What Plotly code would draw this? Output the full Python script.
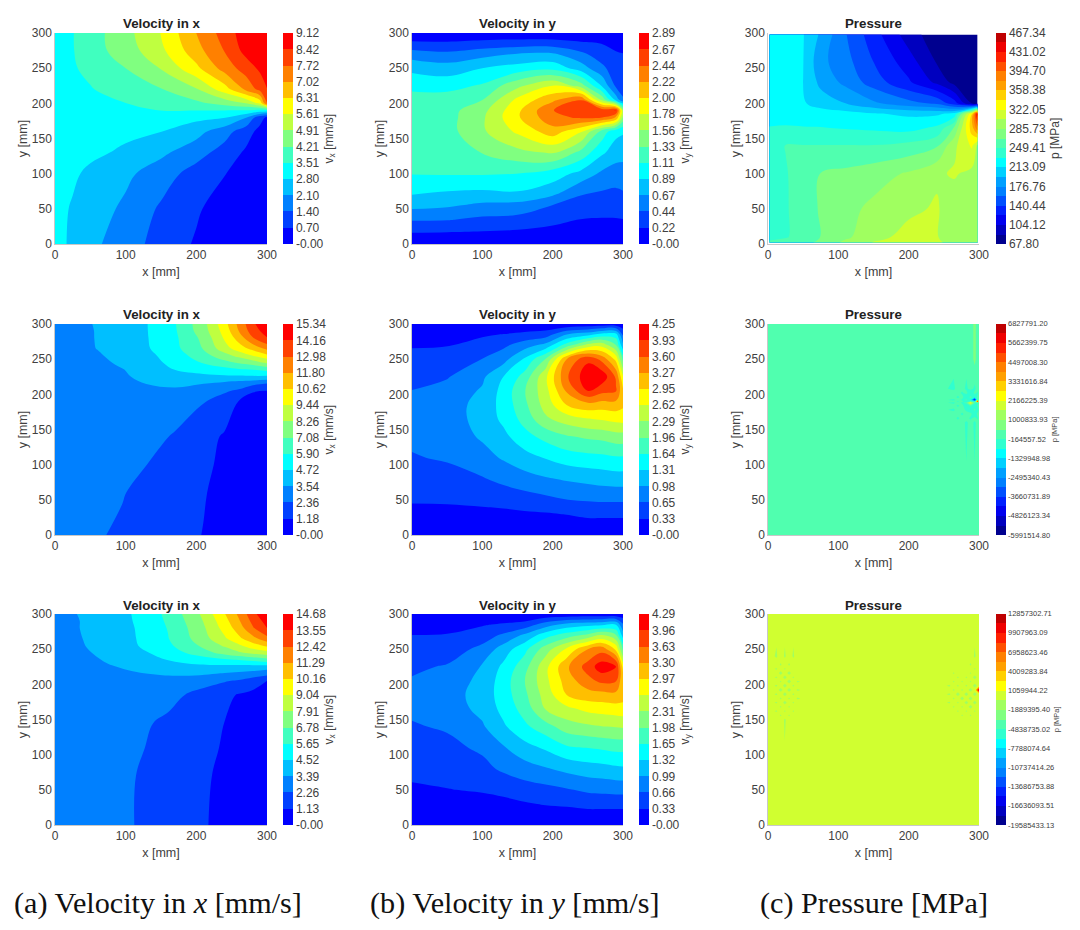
import plotly.graph_objects as go

# colours of the filled bands, bottom to top
velocity_colors = ["#0000ff", "#0040ff", "#0080ff", "#00bfff", "#00ffff", "#40ffbf", "#80ff80",
                   "#bfff40", "#ffff00", "#ffbf00", "#ff8000", "#ff4000", "#ff0000"]
pressure_colors = ["#00008f", "#0000bf", "#0000ef", "#0020ff", "#0050ff", "#0080ff", "#00a0ff", "#00d0ff",
                   "#00ffff", "#30ffcf", "#50ffaf", "#80ff80", "#a0ff60", "#d0ff30", "#ffff00", "#ffd000",
                   "#ffa000", "#ff8000", "#ff5000", "#ff2000", "#ef0000", "#bf0000"]

# colorbar labels, bottom to top
vx1_ticks = ["-0.00", "0.70", "1.40", "2.10", "2.80", "3.51", "4.21", "4.91", "5.61", "6.31", "7.02", "7.72", "8.42", "9.12"]
vy1_ticks = ["-0.00", "0.22", "0.44", "0.67", "0.89", "1.11", "1.33", "1.56", "1.78", "2.00", "2.22", "2.44", "2.67", "2.89"]
p1_ticks = ["67.80", "104.12", "140.44", "176.76", "213.09", "249.41", "285.73", "322.05", "358.38", "394.70", "431.02", "467.34"]
vx2_ticks = ["-0.00", "1.18", "2.36", "3.54", "4.72", "5.90", "7.08", "8.26", "9.44", "10.62", "11.80", "12.98", "14.16", "15.34"]
vy2_ticks = ["-0.00", "0.33", "0.65", "0.98", "1.31", "1.64", "1.96", "2.29", "2.62", "2.95", "3.27", "3.60", "3.93", "4.25"]
p2_ticks = ["-5991514.80", "-4826123.34", "-3660731.89", "-2495340.43", "-1329948.98", "-164557.52", "1000833.93",
            "2166225.39", "3331616.84", "4497008.30", "5662399.75", "6827791.20"]
vx3_ticks = ["-0.00", "1.13", "2.26", "3.39", "4.52", "5.65", "6.78", "7.91", "9.04", "10.16", "11.29", "12.42", "13.55", "14.68"]
vy3_ticks = ["-0.00", "0.33", "0.66", "0.99", "1.32", "1.65", "1.98", "2.31", "2.64", "2.97", "3.30", "3.63", "3.96", "4.29"]
p3_ticks = ["-19585433.13", "-16636093.51", "-13686753.88", "-10737414.26", "-7788074.64", "-4838735.02", "-1889395.40",
            "1059944.22", "4009283.84", "6958623.46", "9907963.09", "12857302.71"]

# first row
vx1_x = [0, 25, 50, 100, 150, 200, 240, 270, 290, 300]
vx1_y = [0, 50, 100, 130, 160, 180, 190, 200, 220, 250, 275, 300]
vx1_z = [
    [3.1, 2.65, 2.3, 1.7, 1.15, 0.62, 0.3, 0.15, 0.05, 0.0],
    [3.1, 2.72, 2.45, 1.97, 1.3, 0.8, 0.35, 0.2, 0.1, 0.0],
    [3.15, 2.95, 2.62, 2.25, 1.75, 1.1, 0.73, 0.35, 0.15, 0.05],
    [3.2, 3.1, 3.0, 2.65, 2.25, 1.7, 1.1, 0.6, 0.3, 0.1],
    [3.25, 3.2, 3.15, 3.0, 2.82, 2.35, 1.7, 1.0, 0.5, 0.3],
    [3.3, 3.3, 3.3, 3.25, 3.15, 3.0, 2.85, 2.15, 0.95, 0.6],
    [3.35, 3.35, 3.38, 3.45, 3.51, 3.52, 3.52, 3.5, 3.3, 3.2],
    [3.4, 3.42, 3.45, 3.5, 3.68, 4.05, 4.45, 4.9, 5.8, 7.7],
    [3.38, 3.42, 3.47, 3.8, 4.17, 4.85, 6.0, 7.15, 7.95, 8.4],
    [3.4, 3.45, 3.65, 4.21, 4.95, 6.15, 7.3, 8.05, 8.55, 8.8],
    [3.4, 3.47, 3.9, 4.55, 5.45, 6.75, 7.75, 8.65, 9.0, 9.12],
    [3.4, 3.48, 3.88, 4.68, 5.63, 7.02, 8.02, 8.8, 9.05, 9.12],
]

vy1_x = [0, 50, 100, 150, 200, 240, 270, 290, 300]
vy1_y = [0, 15, 35, 55, 75, 100, 130, 160, 180, 190, 205, 225, 250, 270, 285, 300]
vy1_z = [
    [0.02, 0.02, 0.02, 0.02, 0.02, 0.02, 0.02, 0.02, 0.02],
    [0.21, 0.2, 0.19, 0.17, 0.12, 0.09, 0.09, 0.09, 0.09],
    [0.47, 0.46, 0.4, 0.37, 0.3, 0.22, 0.21, 0.21, 0.22],
    [0.74, 0.7, 0.62, 0.6, 0.44, 0.32, 0.32, 0.33, 0.33],
    [0.94, 0.89, 0.87, 0.89, 0.77, 0.5, 0.44, 0.42, 0.44],
    [1.12, 1.13, 1.13, 1.11, 1.0, 0.82, 0.62, 0.55, 0.6],
    [1.2, 1.22, 1.34, 1.49, 1.58, 1.27, 0.93, 0.78, 0.72],
    [1.22, 1.25, 1.52, 1.82, 2.12, 1.81, 1.25, 0.95, 0.92],
    [1.25, 1.25, 1.52, 1.97, 2.38, 2.48, 2.46, 2.2, 1.5],
    [1.25, 1.25, 1.48, 1.95, 2.44, 2.56, 2.6, 2.68, 1.6],
    [1.2, 1.22, 1.33, 1.83, 2.17, 2.44, 1.5, 0.8, 0.5],
    [1.05, 1.03, 1.14, 1.5, 1.78, 1.45, 0.87, 0.4, 0.25],
    [0.83, 0.77, 0.89, 0.98, 1.04, 0.78, 0.5, 0.32, 0.3],
    [0.56, 0.5, 0.59, 0.68, 0.7, 0.5, 0.32, 0.25, 0.23],
    [0.27, 0.26, 0.3, 0.33, 0.33, 0.26, 0.22, 0.15, 0.13],
    [0.05, 0.05, 0.05, 0.05, 0.05, 0.05, 0.05, 0.05, 0.05],
]

p1_x = [2, 25, 50, 75, 110, 150, 200, 240, 265, 290, 298]
p1_y = [2, 10, 50, 100, 140, 165, 185, 200, 230, 260, 298]
p1_z = [
    [255, 255, 262, 272, 290, 305, 316, 310, 292, 290, 290],
    [240, 248, 256, 268, 282, 298, 310, 305, 293, 290, 290],
    [235, 248, 256, 270, 280, 290, 300, 306, 292, 292, 290],
    [235, 248, 258, 268, 272, 278, 288, 301, 306, 298, 290],
    [240, 250, 250, 250, 250, 250, 255, 265, 300, 325, 300],
    [232, 232, 232, 232, 230, 228, 225, 235, 270, 350, 390],
    [225, 228, 225, 222, 220, 215, 210, 210, 220, 340, 440],
    [225, 224, 215, 205, 195, 180, 165, 155, 130, 85, 80],
    [220, 220, 213, 190, 172, 150, 125, 100, 80, 70, 68],
    [218, 218, 213.5, 182, 165, 140, 112, 84, 72, 68, 68],
    [215, 215, 214, 192, 160, 130, 95, 75, 70, 68, 68],
]

# second row
vx2_x = [0, 40, 60, 95, 130, 170, 210, 240, 260, 280, 300]
vx2_y = [0, 60, 100, 140, 190, 205, 215, 225, 235, 245, 255, 265, 280, 290, 300]
vx2_z = [
    [2.6, 2.55, 2.45, 2.2, 1.95, 1.55, 1.15, 0.8, 0.5, 0.25, 0.05],
    [2.65, 2.63, 2.6, 2.42, 2.05, 1.75, 1.25, 0.85, 0.55, 0.3, 0.15],
    [2.68, 2.7, 2.7, 2.55, 2.36, 1.85, 1.4, 0.95, 0.7, 0.45, 0.3],
    [2.7, 2.77, 2.8, 2.82, 2.75, 2.25, 1.6, 1.05, 0.8, 0.55, 0.4],
    [2.75, 2.85, 2.9, 2.97, 3.0, 2.95, 2.42, 1.9, 1.15, 0.8, 0.7],
    [2.8, 2.92, 3.0, 3.12, 3.2, 3.3, 3.0, 2.5, 2.2, 1.25, 1.17],
    [2.85, 3.0, 3.1, 3.32, 3.55, 3.8, 3.55, 3.2, 2.95, 2.65, 2.3],
    [2.9, 3.05, 3.15, 3.45, 3.7, 4.0, 4.4, 4.5, 4.5, 4.55, 4.5],
    [2.95, 3.1, 3.2, 3.5, 3.9, 4.75, 5.2, 5.5, 5.75, 5.9, 6.2],
    [3.0, 3.17, 3.3, 3.7, 4.2, 5.1, 6.0, 6.7, 7.2, 7.7, 8.4],
    [3.05, 3.25, 3.4, 3.94, 4.4, 5.3, 6.6, 7.8, 8.6, 9.44, 10.3],
    [3.1, 3.3, 3.57, 4.1, 4.6, 5.6, 7.15, 8.95, 10.0, 11.0, 12.1],
    [3.15, 3.33, 3.6, 4.15, 4.66, 5.7, 7.4, 9.6, 11.1, 12.9, 14.1],
    [3.2, 3.35, 3.6, 4.15, 4.68, 5.78, 7.75, 9.9, 11.8, 13.6, 14.7],
    [3.2, 3.38, 3.63, 4.18, 4.69, 5.84, 7.87, 10.2, 12.1, 13.9, 15.34],
]

vy2_x = [0, 50, 100, 130, 160, 190, 220, 250, 270, 290, 300]
vy2_y = [0, 30, 50, 80, 110, 140, 165, 185, 205, 225, 250, 270, 285, 300]
vy2_z = [
    [0.02, 0.02, 0.02, 0.02, 0.02, 0.02, 0.02, 0.02, 0.02, 0.02, 0.02],
    [0.23, 0.23, 0.24, 0.25, 0.28, 0.3, 0.34, 0.4, 0.4, 0.4, 0.4],
    [0.36, 0.37, 0.41, 0.45, 0.5, 0.57, 0.65, 0.68, 0.7, 0.7, 0.7],
    [0.5, 0.53, 0.63, 0.74, 0.86, 0.95, 1.02, 1.08, 1.12, 1.15, 1.15],
    [0.63, 0.69, 0.85, 1.02, 1.18, 1.33, 1.47, 1.53, 1.55, 1.6, 1.6],
    [0.72, 0.77, 1.03, 1.22, 1.52, 1.74, 1.93, 2.02, 2.06, 2.15, 2.15],
    [0.76, 0.82, 1.1, 1.38, 1.75, 2.23, 2.45, 2.6, 2.65, 2.72, 2.75],
    [0.73, 0.82, 1.1, 1.42, 1.88, 2.42, 2.95, 3.15, 3.1, 3.12, 3.0],
    [0.66, 0.77, 1.02, 1.42, 1.94, 2.5, 3.32, 3.93, 3.7, 3.62, 3.0],
    [0.55, 0.63, 0.92, 1.31, 1.76, 2.55, 3.55, 4.15, 4.15, 3.55, 2.65],
    [0.42, 0.45, 0.66, 0.86, 1.35, 1.98, 3.27, 3.85, 3.5, 2.85, 1.85],
    [0.3, 0.31, 0.46, 0.58, 0.82, 1.08, 1.78, 2.4, 2.5, 1.96, 1.05],
    [0.17, 0.18, 0.28, 0.34, 0.42, 0.49, 0.98, 1.2, 1.45, 1.45, 0.6],
    [0.03, 0.03, 0.03, 0.04, 0.05, 0.07, 0.05, 0.08, 0.1, 0.1, 0.1],
]

# pressure of the second row: nearly flat, with dots near the right edge
b2 = 100000
s2 = -300000
m2 = -800000
p2_x = [0, 240, 264, 270, 276, 282, 288, 294, 298, 300]
p2_y = [0, 160, 166, 172, 178, 184, 188, 190, 192, 196, 202, 208, 250, 300]
p2_z = [
    [b2, b2, b2, b2, b2, b2, b2, b2, b2, b2],
    [b2, b2, b2, b2, b2, s2, b2, s2, b2, b2],
    [b2, b2, b2, s2, b2, b2, s2, b2, s2, b2],
    [b2, b2, b2, b2, s2, b2, b2, m2, b2, b2],
    [b2, b2, s2, b2, b2, s2, m2, b2, m2, b2],
    [b2, b2, b2, s2, b2, m2, b2, m2, b2, b2],
    [b2, b2, s2, b2, s2, b2, 2500000, b2, m2, b2],
    [b2, b2, b2, s2, b2, m2, b2, m2, 6500000, b2],
    [b2, b2, s2, b2, s2, b2, m2, -4800000, b2, b2],
    [b2, b2, b2, s2, b2, m2, b2, m2, b2, b2],
    [b2, b2, b2, b2, s2, b2, m2, b2, s2, b2],
    [b2, b2, s2, b2, b2, s2, b2, s2, b2, b2],
    [b2, b2, b2, b2, b2, b2, b2, 600000, b2, b2],
    [b2, b2, b2, b2, b2, b2, b2, 600000, b2, b2],
]

# third row
vx3_x = [0, 40, 75, 110, 160, 205, 240, 260, 280, 300]
vx3_y = [0, 70, 110, 145, 185, 205, 215, 225, 235, 245, 255, 265, 280, 290, 300]
vx3_z = [
    [2.4, 2.5, 2.4, 2.28, 1.8, 1.25, 0.9, 0.6, 0.3, 0.05],
    [2.4, 2.5, 2.42, 2.3, 1.85, 1.3, 0.95, 0.65, 0.4, 0.15],
    [2.42, 2.55, 2.55, 2.42, 1.95, 1.4, 1.05, 0.7, 0.45, 0.27],
    [2.45, 2.6, 2.62, 2.55, 2.05, 1.45, 1.12, 0.75, 0.55, 0.4],
    [2.5, 2.7, 2.82, 2.85, 2.6, 1.95, 1.4, 1.05, 0.85, 0.75],
    [2.6, 2.8, 2.95, 3.05, 3.05, 2.7, 2.35, 2.15, 1.65, 1.13],
    [2.65, 2.9, 3.1, 3.3, 3.5, 3.55, 3.3, 3.15, 2.95, 2.6],
    [2.7, 3.0, 3.3, 3.55, 4.05, 4.3, 4.2, 4.15, 4.1, 4.0],
    [2.75, 3.1, 3.5, 3.9, 4.55, 5.0, 5.45, 5.7, 6.0, 6.4],
    [2.8, 3.25, 3.65, 4.1, 5.0, 6.2, 7.2, 7.75, 8.2, 8.6],
    [2.85, 3.35, 3.8, 4.35, 5.4, 6.85, 8.05, 8.8, 9.7, 10.35],
    [2.9, 3.4, 3.85, 4.4, 5.6, 7.25, 8.85, 9.9, 10.9, 12.05],
    [2.95, 3.45, 3.93, 4.45, 5.7, 7.45, 9.45, 10.7, 12.3, 13.55],
    [2.95, 3.45, 3.95, 4.52, 5.8, 7.65, 9.75, 11.15, 12.75, 14.0],
    [3.0, 3.5, 4.0, 4.55, 5.9, 7.91, 10.1, 11.5, 13.15, 14.68],
]

vy3_x = [0, 50, 100, 130, 160, 190, 220, 250, 270, 290, 300]
vy3_y = [0, 30, 50, 80, 110, 140, 165, 185, 205, 225, 250, 270, 285, 300]
vy3_z = [
    [0.02, 0.02, 0.02, 0.02, 0.02, 0.02, 0.02, 0.02, 0.02, 0.02, 0.02],
    [0.17, 0.19, 0.22, 0.25, 0.3, 0.35, 0.38, 0.43, 0.43, 0.43, 0.43],
    [0.28, 0.32, 0.36, 0.41, 0.5, 0.56, 0.63, 0.72, 0.75, 0.77, 0.77],
    [0.42, 0.45, 0.56, 0.72, 0.85, 0.96, 1.08, 1.17, 1.2, 1.25, 1.27],
    [0.52, 0.57, 0.72, 0.96, 1.2, 1.37, 1.6, 1.66, 1.7, 1.75, 1.75],
    [0.63, 0.7, 0.95, 1.27, 1.58, 1.85, 2.15, 2.25, 2.3, 2.33, 2.35],
    [0.72, 0.82, 1.08, 1.42, 1.78, 2.33, 2.55, 2.73, 2.78, 2.82, 2.85],
    [0.74, 0.85, 1.12, 1.48, 1.9, 2.45, 2.97, 3.15, 3.17, 3.2, 3.1],
    [0.69, 0.8, 1.08, 1.48, 1.97, 2.55, 3.12, 3.52, 3.72, 3.65, 3.05],
    [0.6, 0.69, 1.02, 1.39, 1.85, 2.55, 3.24, 3.78, 4.15, 4.0, 2.85],
    [0.48, 0.49, 0.75, 1.15, 1.55, 2.15, 2.7, 3.3, 3.5, 2.9, 1.9],
    [0.33, 0.35, 0.5, 0.71, 1.05, 1.5, 1.8, 2.05, 2.31, 2.0, 1.15],
    [0.18, 0.2, 0.3, 0.37, 0.45, 0.82, 1.1, 1.2, 1.25, 1.3, 0.7],
    [0.03, 0.03, 0.04, 0.05, 0.05, 0.06, 0.06, 0.08, 0.08, 0.08, 0.1],
]

# pressure of the third row: flat, with dots near both side edges
b3 = 300000
s3 = -600000
m3 = -1000000
p3_x = [0, 12, 18, 24, 30, 36, 42, 60, 240, 258, 264, 270, 276, 282, 288, 294, 300]
p3_y = [0, 150, 156, 162, 168, 174, 180, 186, 192, 198, 204, 210, 216, 222, 228, 240, 300]
p3_z = [
    [b3, b3, b3, b3, b3, b3, b3, b3, b3, b3, b3, b3, b3, b3, b3, b3, b3],
    [b3, b3, b3, s3, b3, b3, b3, b3, b3, b3, b3, b3, b3, b3, b3, b3, b3],
    [b3, b3, s3, b3, s3, b3, b3, b3, b3, b3, b3, b3, s3, b3, s3, b3, b3],
    [b3, s3, b3, s3, b3, s3, b3, b3, b3, b3, b3, s3, b3, s3, b3, s3, b3],
    [b3, b3, s3, b3, s3, b3, b3, b3, b3, b3, s3, b3, s3, b3, m3, b3, b3],
    [b3, s3, b3, m3, b3, s3, b3, b3, b3, s3, b3, s3, b3, m3, b3, m3, b3],
    [b3, b3, s3, b3, s3, b3, s3, b3, b3, b3, s3, b3, m3, b3, m3, b3, b3],
    [b3, s3, b3, m3, b3, s3, b3, b3, b3, s3, b3, m3, b3, m3, b3, m3, b3],
    [b3, b3, m3, b3, m3, b3, s3, b3, b3, b3, s3, b3, s3, b3, m3, b3, 12000000],
    [b3, s3, b3, m3, b3, s3, b3, b3, b3, s3, b3, s3, b3, s3, b3, m3, b3],
    [b3, b3, s3, b3, m3, b3, s3, b3, b3, b3, s3, b3, s3, b3, s3, b3, b3],
    [b3, s3, b3, m3, b3, s3, b3, b3, b3, b3, b3, s3, b3, s3, b3, m3, b3],
    [b3, b3, m3, b3, m3, b3, b3, b3, b3, b3, s3, b3, b3, b3, s3, b3, b3],
    [b3, s3, b3, s3, b3, b3, b3, b3, b3, b3, b3, b3, b3, b3, b3, s3, b3],
    [b3, b3, s3, b3, s3, b3, b3, b3, b3, b3, b3, b3, b3, b3, s3, b3, b3],
    [b3, s3, b3, s3, b3, s3, b3, b3, b3, b3, b3, b3, b3, b3, b3, s3, b3],
    [b3, b3, b3, b3, b3, b3, b3, b3, b3, b3, b3, b3, b3, b3, b3, b3, b3],
]

W = 1080
H = 930
col_left = [55, 412, 768]
col_right = [267, 623, 979]
bar_left = [283, 639, 996]
row_top = [33, 324, 614]
row_bottom = [244, 535, 825]

panels = [
    (0, 0, vx1_x, vx1_y, vx1_z, vx1_ticks, velocity_colors, "Velocity in x", "v<sub>x</sub> [mm/s]"),
    (0, 1, vy1_x, vy1_y, vy1_z, vy1_ticks, velocity_colors, "Velocity in y", "v<sub>y</sub> [mm/s]"),
    (0, 2, p1_x, p1_y, p1_z, p1_ticks, pressure_colors, "Pressure", "p [MPa]"),
    (1, 0, vx2_x, vx2_y, vx2_z, vx2_ticks, velocity_colors, "Velocity in x", "v<sub>x</sub> [mm/s]"),
    (1, 1, vy2_x, vy2_y, vy2_z, vy2_ticks, velocity_colors, "Velocity in y", "v<sub>y</sub> [mm/s]"),
    (1, 2, p2_x, p2_y, p2_z, p2_ticks, pressure_colors, "Pressure", "p [MPa]"),
    (2, 0, vx3_x, vx3_y, vx3_z, vx3_ticks, velocity_colors, "Velocity in x", "v<sub>x</sub> [mm/s]"),
    (2, 1, vy3_x, vy3_y, vy3_z, vy3_ticks, velocity_colors, "Velocity in y", "v<sub>y</sub> [mm/s]"),
    (2, 2, p3_x, p3_y, p3_z, p3_ticks, pressure_colors, "Pressure", "p [MPa]"),
]

captions = [("(a) Velocity in <i>x</i> [mm/s]", 12), ("(b) Velocity in <i>y</i> [mm/s]", 368), ("(c) Pressure [MPa]", 758)]

SANS = "Liberation Sans"
SERIF = "Liberation Serif"
GRAY = "#404040"


def band_scale(colors):
    # plotly puts band k of n at (k+1)/(n+1) when the contours are filled,
    # the two ends are half bands past the last levels on the colorbar: keep them white
    n = len(colors)
    scale = [[0, "#ffffff"]]
    for k, c in enumerate(colors):
        scale.append([(k + 1) / (n + 1), c])
    scale.append([1, "#ffffff"])
    return scale


fig = go.Figure()
annotations = []
axes = {}

for i, (row, col, xs, ys, zs, ticks, colors, title, bar_title) in enumerate(panels):
    low = float(ticks[0])
    high = float(ticks[-1])
    size = (high - low) / len(colors)
    tick_step = len(colors) // (len(ticks) - 1)
    tickvals = [low + k * tick_step * size for k in range(len(ticks))]
    small = len(ticks[-1]) > 7
    suffix = str(i + 1) if i else ""
    plot_h = row_bottom[row] - row_top[row]
    half_band = plot_h / len(colors) / 2

    fig.add_trace(go.Contour(
        x=xs, y=ys, z=zs,
        xaxis="x" + suffix, yaxis="y" + suffix,
        autocontour=False,
        contours=dict(start=low, end=high, size=size, coloring="fill", showlines=False),
        line=dict(width=0, smoothing=0 if small else 1.1),
        colorscale=band_scale(colors),
        hoverinfo="skip",
        colorbar=dict(
            x=bar_left[col] / W, xanchor="left", xpad=0,
            y=1 - (row_bottom[row] + half_band) / H, yanchor="bottom", ypad=0,
            len=plot_h + 2 * half_band, lenmode="pixels",
            thickness=10, thicknessmode="pixels",
            tickmode="array", tickvals=tickvals, ticktext=ticks, ticks="",
            tickfont=dict(family=SANS, size=7.5 if small else 12, color=GRAY),
            outlinewidth=0,
            title=dict(text=bar_title, side="right",
                       font=dict(family=SANS, size=7.5 if small else 12, color=GRAY)),
        ),
    ))

    axes["xaxis" + suffix] = dict(
        domain=[col_left[col] / W, col_right[col] / W], range=[0, 300], dtick=100, tick0=0,
        anchor="y" + suffix, ticks="", showgrid=False, zeroline=False,
        showline=True, linecolor="#c8c8c8", linewidth=0.5,
        tickfont=dict(family=SANS, size=12, color=GRAY),
        title=dict(text="x [mm]", standoff=6, font=dict(family=SANS, size=12.5, color=GRAY)),
    )
    axes["yaxis" + suffix] = dict(
        domain=[1 - row_bottom[row] / H, 1 - row_top[row] / H], range=[0, 300], dtick=50, tick0=0,
        anchor="x" + suffix, ticks="", showgrid=False, zeroline=False,
        showline=True, linecolor="#c8c8c8", linewidth=0.5,
        tickfont=dict(family=SANS, size=12, color=GRAY),
        title=dict(text="y [mm]", standoff=1, font=dict(family=SANS, size=12.5, color=GRAY)),
    )
    annotations.append(dict(
        text="<b>" + title + "</b>", xref="paper", yref="paper", showarrow=False,
        x=(col_left[col] + col_right[col]) / 2 / W, y=1 - (row_top[row] - 9) / H,
        xanchor="center", yanchor="middle",
        font=dict(family=SANS, size=13.3, color="#222222"),
    ))

for text, left in captions:
    annotations.append(dict(
        text=text, xref="paper", yref="paper", showarrow=False,
        x=left / W, y=1 - 903 / H, xanchor="left", yanchor="middle",
        font=dict(family=SERIF, size=30.2, color="#111111"),
    ))

fig.update_layout(
    width=W, height=H, margin=dict(l=0, r=0, t=0, b=0, autoexpand=False),
    paper_bgcolor="white", plot_bgcolor="white", showlegend=False,
    annotations=annotations, **axes,
)

fig.write_html("out.html", config=dict(displayModeBar=False), post_script="document.body.style.margin='0';")
